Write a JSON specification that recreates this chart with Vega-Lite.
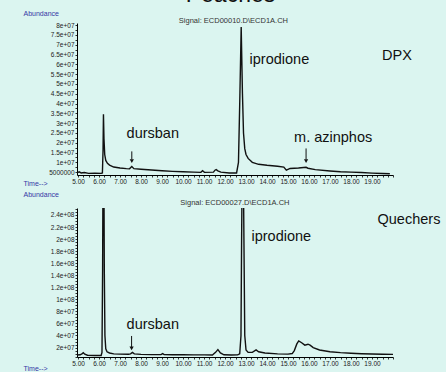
{
  "$schema": "https://vega.github.io/schema/vega-lite/v6.json",
  "background": "#dbf5f0",
  "autosize": {"type": "pad"},
  "padding": {"left": 23, "top": -16, "right": 10, "bottom": 10},
  "spacing": 33,
  "bounds": "flush",
  "config": {
    "view": {"stroke": null},
    "font": "Liberation Sans",
    "text": {"font": "Liberation Sans", "color": "#111"},
    "axis": {
      "domainColor": "#000",
      "domainWidth": 1,
      "tickColor": "#000",
      "tickWidth": 0.8,
      "tickSize": 2,
      "labelColor": "#222",
      "labelFont": "Liberation Sans",
      "labelFontSize": 6.5,
      "labelPadding": 1,
      "labelOverlap": false,
      "labelBound": false,
      "labelFlush": false,
      "grid": false,
      "titleFont": "Liberation Sans",
      "titleFontSize": 7,
      "titleFontWeight": "normal",
      "titleColor": "#3535a5",
      "titleAngle": 0,
      "titleAlign": "left",
      "titleBaseline": "middle"
    }
  },
  "datasets": {
    "dpx": [
      {"t": 4.95, "a": 4600000}, {"t": 5.05, "a": 5200000}, {"t": 5.15, "a": 4600000}, {"t": 5.3, "a": 4800000},
      {"t": 5.5, "a": 4400000}, {"t": 5.8, "a": 4500000}, {"t": 6.1, "a": 4400000}, {"t": 6.16, "a": 4600000},
      {"t": 6.19, "a": 16000000}, {"t": 6.21, "a": 34500000}, {"t": 6.235, "a": 22000000}, {"t": 6.27, "a": 14000000},
      {"t": 6.32, "a": 11000000}, {"t": 6.4, "a": 9500000}, {"t": 6.5, "a": 8600000}, {"t": 6.7, "a": 7600000},
      {"t": 7.0, "a": 7100000}, {"t": 7.3, "a": 6800000}, {"t": 7.45, "a": 6700000}, {"t": 7.56, "a": 7900000},
      {"t": 7.66, "a": 6800000}, {"t": 8.0, "a": 6500000}, {"t": 8.5, "a": 6100000}, {"t": 9.0, "a": 5700000},
      {"t": 9.5, "a": 5400000}, {"t": 10.0, "a": 5200000}, {"t": 10.5, "a": 5000000}, {"t": 10.85, "a": 4900000},
      {"t": 10.93, "a": 5700000}, {"t": 11.02, "a": 4900000}, {"t": 11.45, "a": 5000000}, {"t": 11.52, "a": 6000000},
      {"t": 11.58, "a": 6300000}, {"t": 11.66, "a": 5700000}, {"t": 11.8, "a": 5000000}, {"t": 12.2, "a": 4600000},
      {"t": 12.55, "a": 4600000}, {"t": 12.64, "a": 10000000}, {"t": 12.7, "a": 40000000}, {"t": 12.77, "a": 79000000},
      {"t": 12.83, "a": 45000000}, {"t": 12.88, "a": 25000000}, {"t": 12.94, "a": 17000000}, {"t": 13.0, "a": 14000000},
      {"t": 13.1, "a": 12000000}, {"t": 13.3, "a": 10000000}, {"t": 13.6, "a": 9000000}, {"t": 14.0, "a": 8500000},
      {"t": 14.5, "a": 8000000}, {"t": 14.8, "a": 7600000}, {"t": 14.92, "a": 6000000}, {"t": 15.0, "a": 6400000},
      {"t": 15.1, "a": 6900000}, {"t": 15.5, "a": 7100000}, {"t": 15.86, "a": 7500000}, {"t": 15.95, "a": 7000000},
      {"t": 16.3, "a": 6300000}, {"t": 17.0, "a": 5600000}, {"t": 17.5, "a": 5200000}, {"t": 18.0, "a": 5000000},
      {"t": 18.5, "a": 4800000}, {"t": 19.0, "a": 4500000}, {"t": 19.5, "a": 4300000}, {"t": 19.85, "a": 4200000}
    ],
    "quechers": [
      {"t": 4.95, "a": 7500000}, {"t": 5.1, "a": 8000000}, {"t": 5.2, "a": 10000000}, {"t": 5.25, "a": 11500000},
      {"t": 5.32, "a": 9000000}, {"t": 5.45, "a": 7200000}, {"t": 5.8, "a": 6800000}, {"t": 6.1, "a": 6800000},
      {"t": 6.14, "a": 12000000}, {"t": 6.17, "a": 150000000}, {"t": 6.19, "a": 330000000}, {"t": 6.23, "a": 330000000},
      {"t": 6.25, "a": 150000000}, {"t": 6.28, "a": 40000000}, {"t": 6.32, "a": 18000000}, {"t": 6.38, "a": 13000000},
      {"t": 6.5, "a": 11000000}, {"t": 6.7, "a": 9500000}, {"t": 7.0, "a": 9000000}, {"t": 7.4, "a": 8800000},
      {"t": 7.5, "a": 9500000}, {"t": 7.59, "a": 12000000}, {"t": 7.68, "a": 9500000}, {"t": 8.0, "a": 8600000},
      {"t": 8.5, "a": 8200000}, {"t": 8.95, "a": 8200000}, {"t": 9.03, "a": 9800000}, {"t": 9.1, "a": 8200000},
      {"t": 9.5, "a": 8000000}, {"t": 10.0, "a": 8000000}, {"t": 10.5, "a": 7800000}, {"t": 11.0, "a": 7800000},
      {"t": 11.4, "a": 7600000}, {"t": 11.55, "a": 12000000}, {"t": 11.66, "a": 16500000}, {"t": 11.78, "a": 11000000},
      {"t": 11.95, "a": 8000000}, {"t": 12.3, "a": 7600000}, {"t": 12.6, "a": 7800000}, {"t": 12.7, "a": 9500000},
      {"t": 12.76, "a": 40000000}, {"t": 12.79, "a": 200000000}, {"t": 12.82, "a": 330000000}, {"t": 12.87, "a": 330000000},
      {"t": 12.9, "a": 200000000}, {"t": 12.94, "a": 40000000}, {"t": 13.0, "a": 16000000}, {"t": 13.1, "a": 12000000},
      {"t": 13.3, "a": 12000000}, {"t": 13.48, "a": 16000000}, {"t": 13.6, "a": 13000000}, {"t": 13.9, "a": 11000000},
      {"t": 14.5, "a": 9500000}, {"t": 15.0, "a": 9000000}, {"t": 15.2, "a": 10000000}, {"t": 15.3, "a": 15000000},
      {"t": 15.42, "a": 26000000}, {"t": 15.51, "a": 31000000}, {"t": 15.65, "a": 28000000}, {"t": 15.8, "a": 24000000},
      {"t": 15.95, "a": 25500000}, {"t": 16.05, "a": 24000000}, {"t": 16.2, "a": 20000000}, {"t": 16.5, "a": 16000000},
      {"t": 17.0, "a": 13000000}, {"t": 17.5, "a": 11500000}, {"t": 18.0, "a": 10500000}, {"t": 18.5, "a": 9800000},
      {"t": 19.0, "a": 9200000}, {"t": 19.5, "a": 8800000}, {"t": 20.0, "a": 8600000}
    ],
    "arrows_top": [
      {"t": 7.56, "a": 15600000, "a2": 11500000},
      {"t": 15.86, "a": 17100000, "a2": 11500000}
    ],
    "heads_top": [
      {"t": 7.56, "a": 10600000},
      {"t": 15.86, "a": 10600000}
    ],
    "arrows_bottom": [
      {"t": 7.55, "a": 39200000, "a2": 20500000}
    ],
    "heads_bottom": [
      {"t": 7.55, "a": 18500000}
    ],
    "notes_top": [
      {"kind": "label", "t": 8.56, "a": 24700000, "label": "dursban"},
      {"kind": "label", "t": 14.59, "a": 62000000, "label": "iprodione"},
      {"kind": "label", "t": 20.19, "a": 64500000, "label": "DPX"},
      {"kind": "label", "t": 17.15, "a": 22200000, "label": "m. azinphos"},
      {"kind": "signal", "t": 12.4, "a": 80850000, "label": "Signal: ECD00010.D\\ECD1A.CH"},
      {"kind": "title", "t": 12.26, "a": 91560000, "label": "Peaches"}
    ],
    "notes_bottom": [
      {"kind": "label", "t": 8.56, "a": 57300000, "label": "dursban"},
      {"kind": "label", "t": 14.68, "a": 203700000, "label": "iprodione"},
      {"kind": "label", "t": 20.76, "a": 231500000, "label": "Quechers"},
      {"kind": "signal", "t": 12.47, "a": 255750000, "label": "Signal: ECD00027.D\\ECD1A.CH"}
    ]
  },
  "vconcat": [
    {
      "width": 316,
      "height": 152,
      "encoding": {
        "x": {
          "field": "t", "type": "quantitative",
          "scale": {"domain": [4.95, 20], "nice": false, "zero": false},
          "axis": {
            "title": "Time-->", "titleX": -54, "titleY": 8.5,
            "values": [5,5.25,5.5,5.75,6,6.25,6.5,6.75,7,7.25,7.5,7.75,8,8.25,8.5,8.75,9,9.25,9.5,9.75,10,10.25,10.5,10.75,11,11.25,11.5,11.75,12,12.25,12.5,12.75,13,13.25,13.5,13.75,14,14.25,14.5,14.75,15,15.25,15.5,15.75,16,16.25,16.5,16.75,17,17.25,17.5,17.75,18,18.25,18.5,18.75,19,19.25,19.5,19.75,20],
            "labelExpr": "datum.value % 1 === 0 && datum.value < 19.5 ? format(datum.value, '.2f') : ''"
          }
        },
        "y": {
          "field": "a", "type": "quantitative",
          "scale": {"domain": [3550000, 81100000], "nice": false, "zero": false},
          "axis": {
            "title": "Abundance", "titleX": -54, "titleY": -10,
            "values": [5000000,7500000,10000000,12500000,15000000,17500000,20000000,22500000,25000000,27500000,30000000,32500000,35000000,37500000,40000000,42500000,45000000,47500000,50000000,52500000,55000000,57500000,60000000,62500000,65000000,67500000,70000000,72500000,75000000,77500000,80000000],
            "labelExpr": "datum.value % 5000000 === 0 ? (datum.value < 10000000 ? format(datum.value, 'd') : replace(format(datum.value, '~e'), 'e+', 'e+0')) : ''"
          }
        }
      },
      "layer": [
        {"data": {"name": "dpx"}, "mark": {"type": "line", "color": "#111", "strokeWidth": 1.4, "clip": true}},
        {"data": {"name": "arrows_top"}, "mark": {"type": "rule", "color": "#111", "strokeWidth": 1}, "encoding": {"y2": {"field": "a2"}}},
        {"data": {"name": "heads_top"}, "mark": {"type": "point", "shape": "triangle-down", "filled": true, "color": "#111", "size": 18, "opacity": 1}},
        {"data": {"name": "notes_top"}, "transform": [{"filter": "datum.kind === 'label'"}], "mark": {"type": "text", "fontSize": 14.5, "color": "#111"}, "encoding": {"text": {"field": "label", "type": "nominal"}}},
        {"data": {"name": "notes_top"}, "transform": [{"filter": "datum.kind === 'signal'"}], "mark": {"type": "text", "fontSize": 7.5, "baseline": "alphabetic", "color": "#333"}, "encoding": {"text": {"field": "label", "type": "nominal"}}},
        {"data": {"name": "notes_top"}, "transform": [{"filter": "datum.kind === 'title'"}], "mark": {"type": "text", "fontSize": 23, "baseline": "alphabetic", "color": "#111"}, "encoding": {"text": {"field": "label", "type": "nominal"}}}
      ]
    },
    {
      "width": 316,
      "height": 149,
      "encoding": {
        "x": {
          "field": "t", "type": "quantitative",
          "scale": {"domain": [4.95, 20], "nice": false, "zero": false},
          "axis": {
            "title": "Time-->", "titleX": -54, "titleY": 11.5,
            "values": [5,5.25,5.5,5.75,6,6.25,6.5,6.75,7,7.25,7.5,7.75,8,8.25,8.5,8.75,9,9.25,9.5,9.75,10,10.25,10.5,10.75,11,11.25,11.5,11.75,12,12.25,12.5,12.75,13,13.25,13.5,13.75,14,14.25,14.5,14.75,15,15.25,15.5,15.75,16,16.25,16.5,16.75,17,17.25,17.5,17.75,18,18.25,18.5,18.75,19,19.25,19.5,19.75,20],
            "labelExpr": "datum.value % 1 === 0 && datum.value < 19.5 ? format(datum.value, '.2f') : ''"
          }
        },
        "y": {
          "field": "a", "type": "quantitative",
          "scale": {"domain": [4300000, 251600000], "nice": false, "zero": false},
          "axis": {
            "title": "Abundance", "titleX": -54, "titleY": -13.5,
            "values": [5000000,10000000,15000000,20000000,25000000,30000000,35000000,40000000,45000000,50000000,55000000,60000000,65000000,70000000,75000000,80000000,85000000,90000000,95000000,100000000,105000000,110000000,115000000,120000000,125000000,130000000,135000000,140000000,145000000,150000000,155000000,160000000,165000000,170000000,175000000,180000000,185000000,190000000,195000000,200000000,205000000,210000000,215000000,220000000,225000000,230000000,235000000,240000000,245000000,250000000],
            "labelExpr": "datum.value % 20000000 === 0 ? replace(format(datum.value, '~e'), 'e+', 'e+0') : ''"
          }
        }
      },
      "layer": [
        {"data": {"name": "quechers"}, "mark": {"type": "line", "color": "#111", "strokeWidth": 1.4, "clip": true}},
        {"data": {"name": "arrows_bottom"}, "mark": {"type": "rule", "color": "#111", "strokeWidth": 1}, "encoding": {"y2": {"field": "a2"}}},
        {"data": {"name": "heads_bottom"}, "mark": {"type": "point", "shape": "triangle-down", "filled": true, "color": "#111", "size": 18, "opacity": 1}},
        {"data": {"name": "notes_bottom"}, "transform": [{"filter": "datum.kind === 'label'"}], "mark": {"type": "text", "fontSize": 14.5, "color": "#111"}, "encoding": {"text": {"field": "label", "type": "nominal"}}},
        {"data": {"name": "notes_bottom"}, "transform": [{"filter": "datum.kind === 'signal'"}], "mark": {"type": "text", "fontSize": 7.5, "baseline": "alphabetic", "color": "#333"}, "encoding": {"text": {"field": "label", "type": "nominal"}}}
      ]
    }
  ]
}
